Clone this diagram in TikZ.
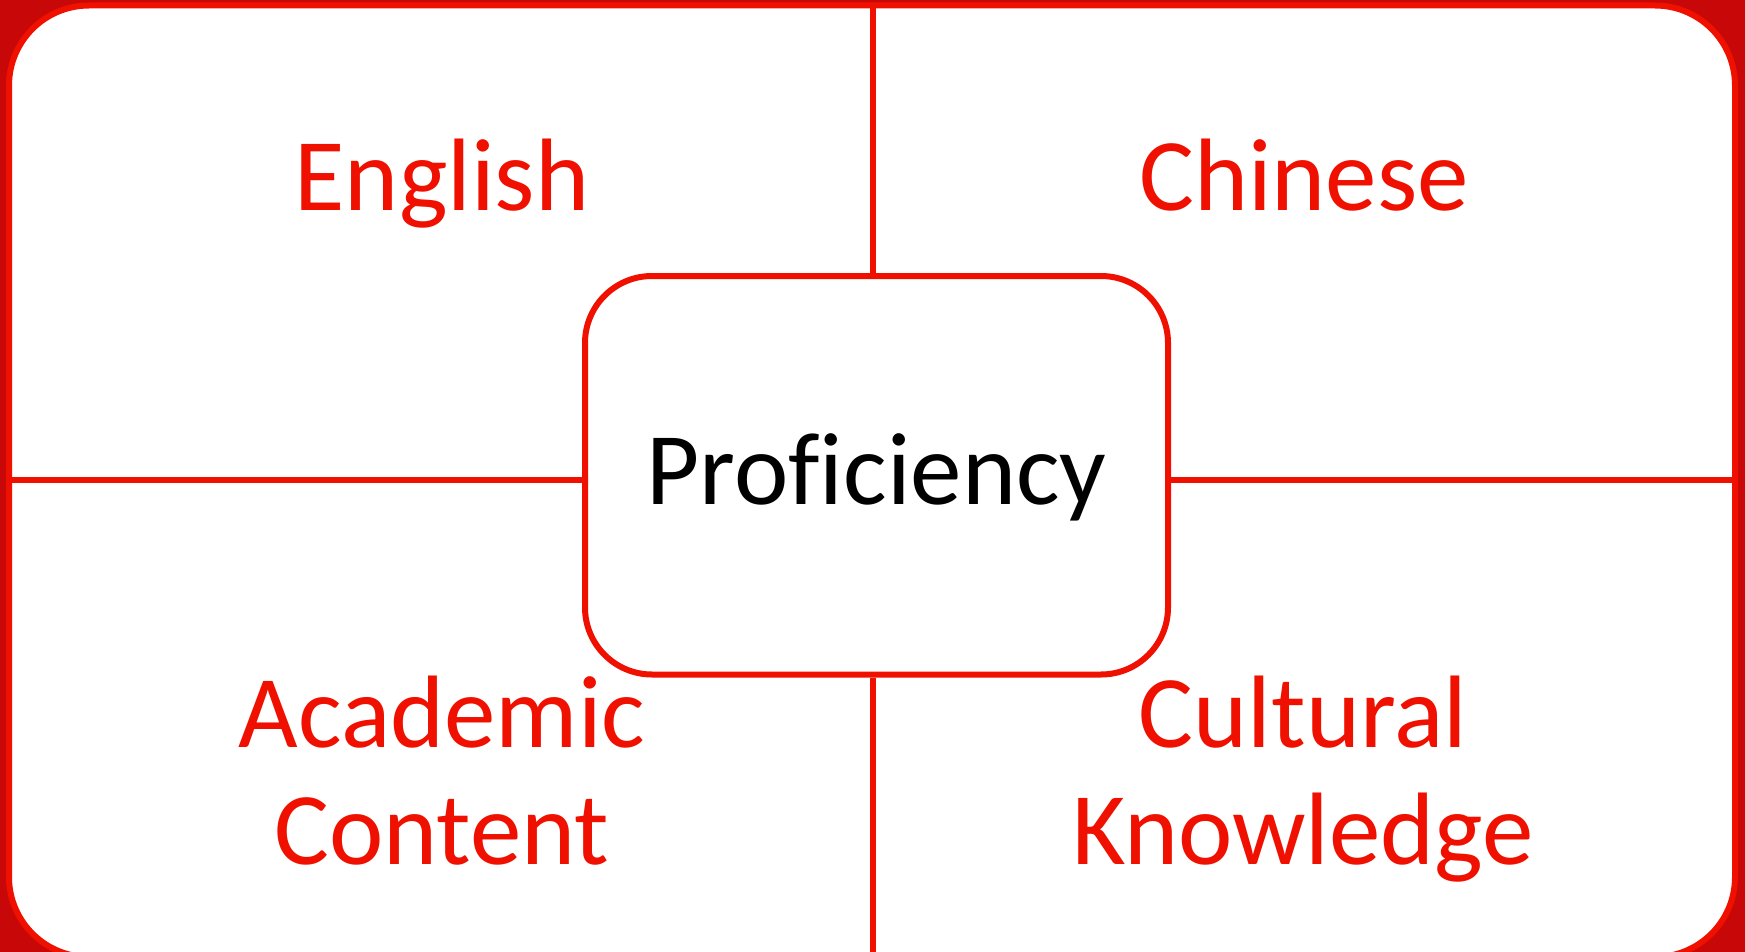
\documentclass[tikz,border=0pt]{standalone}
\usepackage{fontspec}
\setmainfont[Ligatures=NoCommon]{Carlito}
\definecolor{bgred}{RGB}{200,8,8}
\definecolor{linered}{RGB}{240,16,0}
\begin{document}
\begin{tikzpicture}[x=1pt,y=-1pt,
  lbl/.style={text=linered,font=\fontsize{103}{117}\selectfont,align=center,anchor=base,inner sep=0pt},
  divider/.style={draw=linered,line width=6pt}]
\useasboundingbox (0,0) rectangle (1745,952);
\fill[bgred] (0,0) rectangle (1745,952);
\node[draw=linered,fill=white,line width=6pt,rounded corners=80pt,
  minimum width=1726pt,minimum height=951.5pt,inner sep=0pt] (frame) at (872,481.25) {};
\coordinate (vtop) at (873,5.5);
\coordinate (vbot) at (873,957);
\coordinate (hleft) at (9,480);
\coordinate (hright) at (1735,480);
\node[draw=linered,fill=white,line width=6pt,rounded corners=67pt,
  minimum width=583pt,minimum height=398.5pt,inner sep=0pt,
  font=\fontsize{103}{117}\selectfont,text height=70pt,text depth=11pt] (box) at (876.5,475.25) {Proficiency};
\draw[divider] (vtop) -- (vtop |- box.north);
\draw[divider] (vbot) -- (vbot |- box.south);
\draw[divider] (hleft) -- (hleft -| box.west);
\draw[divider] (hright) -- (hright -| box.east);
\node[lbl] (english) at (442,211) {English};
\node[lbl] (chinese) at (1304,211) {Chinese};
\node[lbl] (academic) at (442,864) {Academic\\Content};
\node[lbl] (cultural) at (1303,864) {Cultural\\Knowledge};
\end{tikzpicture}
\end{document}
